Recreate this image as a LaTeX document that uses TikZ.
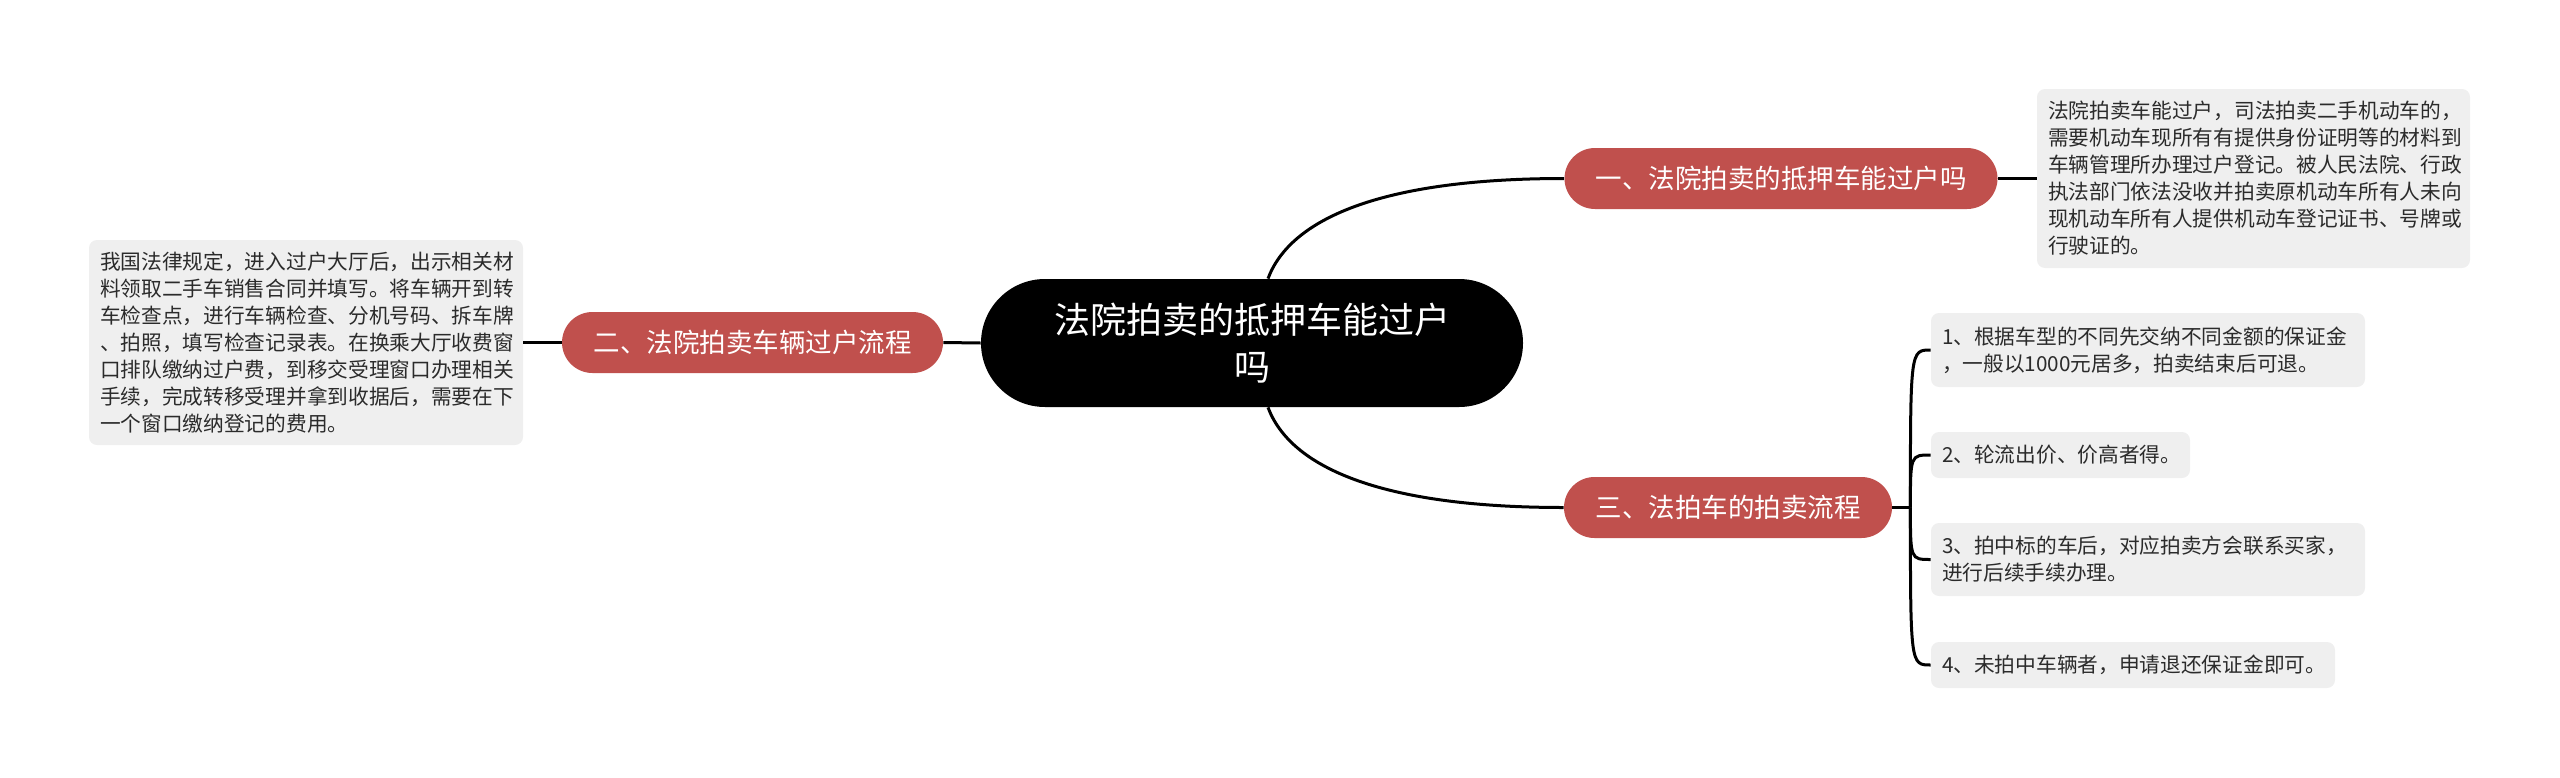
\documentclass[tikz,border=0pt]{standalone}
\usepackage{fontspec}
\setmainfont{Noto Sans CJK SC}
\usetikzlibrary{calc}
\definecolor{branchred}{HTML}{C0504D}
\definecolor{detailgray}{HTML}{EFEFEF}
\definecolor{detailtext}{HTML}{2B2B2B}
\begin{document}
\begin{tikzpicture}[x=0.5pt,y=-0.5pt,
  centerbox/.style={fill=black,text=white,rounded corners=32pt,minimum width=271pt,minimum height=64pt,inner sep=0pt,align=center,font=\fontsize{18pt}{23.5pt}\selectfont},
  branchbox/.style={fill=branchred,text=white,rounded corners=15.25pt,minimum height=30.5pt,inner sep=0pt,font=\fontsize{13.25pt}{16pt}\selectfont},
  detailbox/.style={fill=detailgray,text=detailtext,rounded corners=4pt,inner xsep=5.5pt,inner ysep=0pt,align=left,font=\fontsize{10.35pt}{13.5pt}\selectfont},
  link/.style={draw=black,line width=1.5pt}]
\useasboundingbox (0,0) rectangle (2560,777);
% central topic
\node[centerbox] (c) at (1252,343) {法院拍卖的抵押车能过户\\吗};
% branches
\node[branchbox,minimum width=216.5pt] (b1) at (1781,178.5) {一、法院拍卖的抵押车能过户吗};
\node[branchbox,minimum width=190.5pt] (b2) at (752.5,342.5) {二、法院拍卖车辆过户流程};
\node[branchbox,minimum width=164pt] (b3) at (1728,507.5) {三、法拍车的拍卖流程};
% details
\node[detailbox,text width=205.5pt,minimum height=89.5pt] (d1) at (2253.5,178.5) {法院拍卖车能过户，司法拍卖二手机动车的，\\需要机动车现所有有提供身份证明等的材料到\\车辆管理所办理过户登记。被人民法院、行政\\执法部门依法没收并拍卖原机动车所有人未向\\现机动车所有人提供机动车登记证书、号牌或\\行驶证的。};
\node[detailbox,text width=206pt,minimum height=102.5pt] (d2) at (306,342.5) {我国法律规定，进入过户大厅后，出示相关材\\料领取二手车销售合同并填写。将车辆开到转\\车检查点，进行车辆检查、分机号码、拆车牌\\、拍照，填写检查记录表。在换乘大厅收费窗\\口排队缴纳过户费，到移交受理窗口办理相关\\手续，完成转移受理并拿到收据后，需要在下\\一个窗口缴纳登记的费用。};
\node[detailbox,text width=206pt,minimum height=37pt] (i1) at (2148,350) {1、根据车型的不同先交纳不同金额的保证金\\，一般以1000元居多，拍卖结束后可退。};
\node[detailbox,text width=118.5pt,minimum height=23pt] (i2) at (2060.5,455) {2、轮流出价、价高者得。};
\node[detailbox,text width=206pt,minimum height=36.5pt] (i3) at (2148,559.5) {3、拍中标的车后，对应拍卖方会联系买家，\\进行后续手续办理。};
\node[detailbox,text width=191pt,minimum height=23pt] (i4) at (2133,665) {4、未拍中车辆者，申请退还保证金即可。};
% connectors
\draw[link] ([xshift=8pt]c.north) .. controls +(22,-59) and +(-185,0) .. (b1.west);
\draw[link] ([xshift=8pt]c.south) .. controls +(22,59) and +(-185,0) .. (b3.west);
\draw[link] (b1.east) -- (d1.west);
\draw[link] (d2.east) -- (b2.west);
\draw[link] (b2.east) -- (c.west);
\draw[link] (b3.east) -- ++(9pt,0) coordinate (j);
\foreach \it in {i1,i2,i3,i4}{
  \draw[link] (j) .. controls (j |- \it.west) and (j |- \it.west) .. (\it.west);
}
\end{tikzpicture}
\end{document}
